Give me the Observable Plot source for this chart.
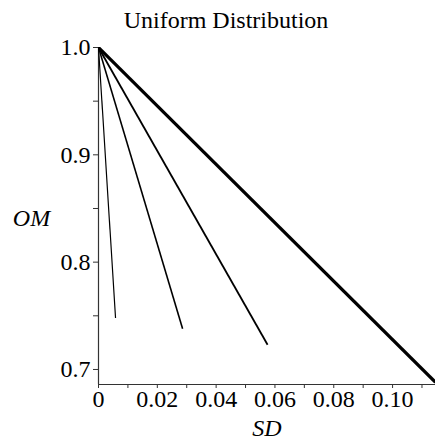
<!DOCTYPE html>
<html>
<head>
<meta charset="utf-8">
<script src="https://cdn.jsdelivr.net/npm/d3@7"></script>
<script src="https://cdn.jsdelivr.net/npm/@observablehq/plot@0.6"></script>
<style>
  html, body { margin: 0; padding: 0; background: #fff; }
  #chart svg { display: block; font-family: 'Liberation Serif', 'Times New Roman', serif !important; }
  #chart svg text { font-family: 'Liberation Serif', 'Times New Roman', serif !important; }
</style>
</head>
<body>
<div id="chart"></div>
<script>
// Data: each series is a straight line from (0, 1)
const seriesNames = ["a", "b", "c", "d"];
const startSD = [0, 0, 0, 0];
const startOM = [1.0, 1.0, 1.0, 1.0];
const endSD = [0.0058, 0.0286, 0.0575, 0.1146];
const endOM = [0.748, 0.738, 0.723, 0.688];
const strokeWidths = [1.2, 1.6, 1.8, 3.2];

const xMajorTicks = [0, 0.02, 0.04, 0.06, 0.08, 0.10];
const xMajorLabels = ["0", "0.02", "0.04", "0.06", "0.08", "0.10"];
const xMinorTicks = [0.01, 0.03, 0.05, 0.07, 0.09, 0.11];
const yMajorTicks = [0.7, 0.8, 0.9, 1.0];
const yMajorLabels = ["0.7", "0.8", "0.9", "1.0"];
const yMinorTicks = [0.75, 0.85, 0.95];

const title = "Uniform Distribution";
const xLabel = "SD";
const yLabel = "OM";

const xDomain = [0, 0.1146];
const yDomain = [0.686, 1.0];

const segs = seriesNames.map((s, i) => ({
  s, x1: startSD[i], y1: startOM[i], x2: endSD[i], y2: endOM[i], w: strokeWidths[i]
}));

const font = "'Liberation Serif', 'Times New Roman', serif";
const axisColor = "#333";

const plot = Plot.plot({
  width: 435,
  height: 446,
  marginLeft: 98,
  marginRight: 0,
  marginTop: 47,
  marginBottom: 62,
  style: "font-family: 'Liberation Serif', 'Times New Roman', serif; background: #fff; color: #000; overflow: visible;",
  x: { domain: xDomain },
  y: { domain: yDomain },
  marks: [
    Plot.axisX({
      ticks: xMajorTicks,
      tickFormat: (d) => xMajorLabels[xMajorTicks.indexOf(d)],
      tickSize: 4,
      tickPadding: 1,
      fontSize: 24,
      fontFamily: font,
      stroke: axisColor,
      fill: "#000",
      label: null
    }),
    Plot.axisX({ ticks: xMinorTicks, tickSize: 4, text: null, stroke: axisColor, label: null }),
    Plot.axisY({
      ticks: yMajorTicks,
      tickFormat: (d) => yMajorLabels[yMajorTicks.indexOf(d)],
      tickSize: 5,
      tickPadding: 3,
      fontSize: 24,
      fontFamily: font,
      stroke: axisColor,
      fill: "#000",
      label: null
    }),
    Plot.axisY({ ticks: yMinorTicks, tickSize: 5, text: null, stroke: axisColor, label: null }),
    Plot.ruleX([xDomain[0]], { stroke: axisColor, strokeWidth: 1.2 }),
    Plot.ruleY([yDomain[0]], { stroke: axisColor, strokeWidth: 1.2 }),
    Plot.link(segs, {
      x1: "x1", y1: "y1", x2: "x2", y2: "y2",
      stroke: "#000",
      strokeWidth: (d) => d.w,
      clip: true
    }),
    Plot.text([title], {
      frameAnchor: "top", lineAnchor: "middle", textAnchor: "middle",
      dy: -27, dx: -41, fontSize: 24, fill: "#000", fontFamily: font
    }),
    Plot.text([xLabel], {
      frameAnchor: "bottom", lineAnchor: "middle", textAnchor: "middle",
      dy: 44, fontSize: 24, fontStyle: "italic", fill: "#000", fontFamily: font
    }),
    Plot.text([yLabel], {
      frameAnchor: "left", lineAnchor: "middle", textAnchor: "middle",
      dx: -67, dy: 2, fontSize: 24, fontStyle: "italic", fill: "#000", fontFamily: font
    })
  ]
});

document.getElementById("chart").appendChild(plot);
</script>
</body>
</html>
